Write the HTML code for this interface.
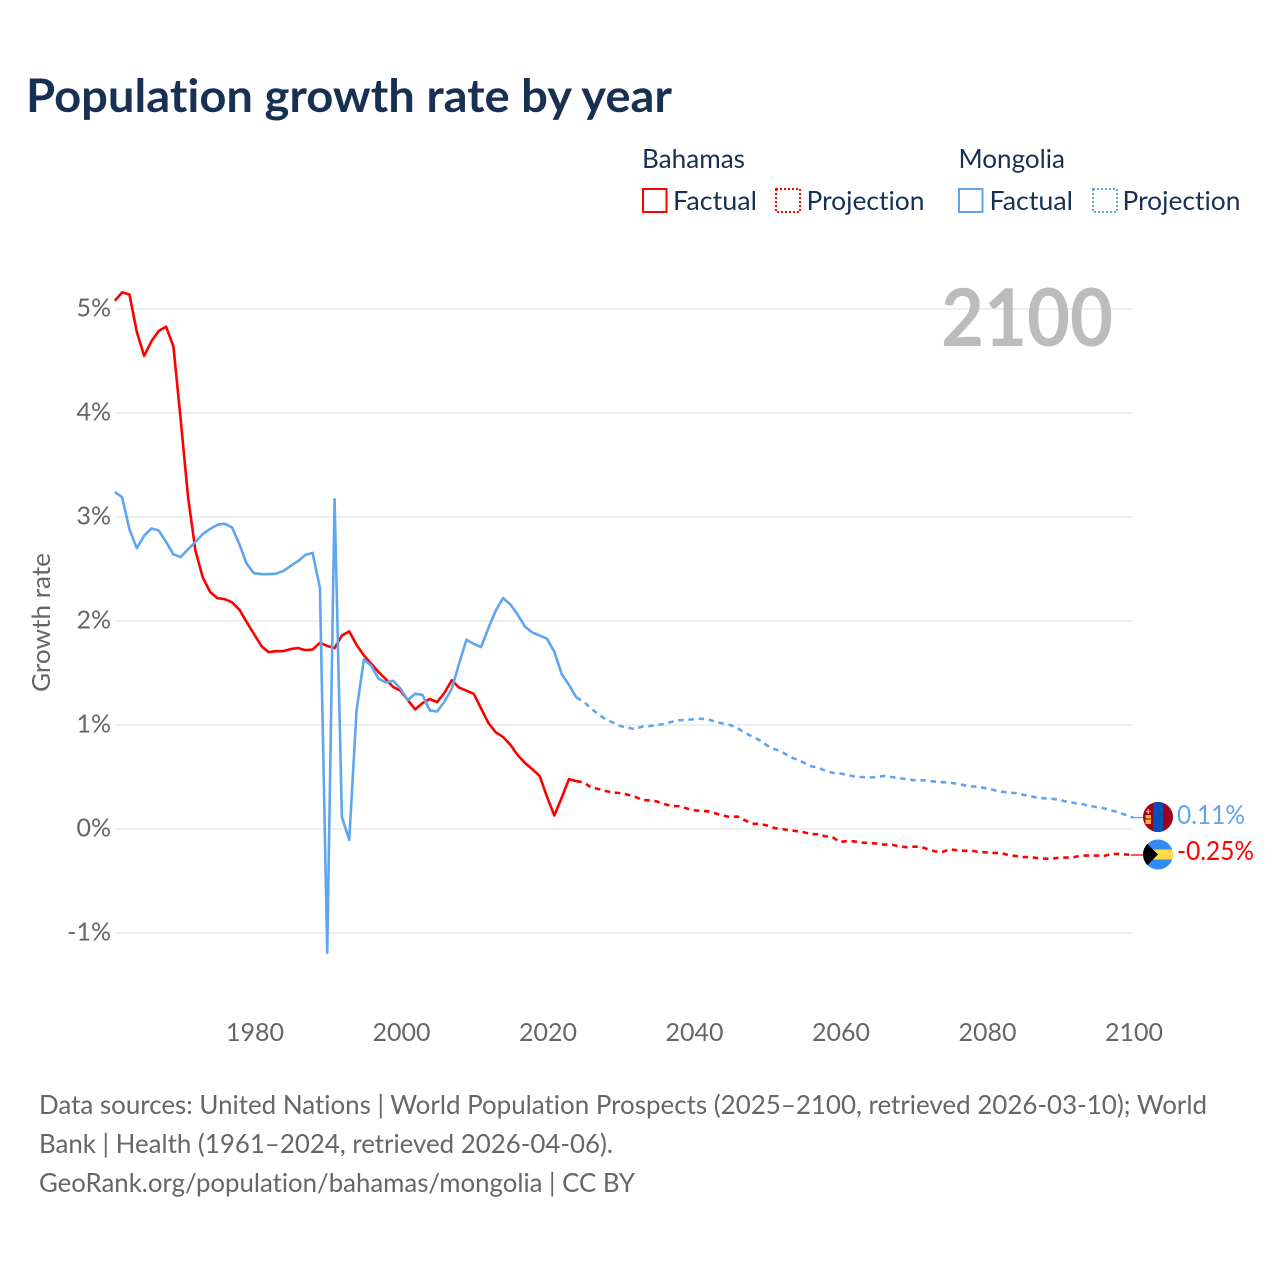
<!DOCTYPE html>
<html lang="en">
<head>
<meta charset="utf-8">
<title>Population growth rate by year</title>
<style>
html,body{margin:0;padding:0;background:#fff;}
svg{display:block;}
text{font-family:"Lato","Carlito","Liberation Sans",sans-serif;font-variant-ligatures:none;font-feature-settings:"liga" 0,"clig" 0,"dlig" 0;}
</style>
</head>
<body>
<svg id="chart" xmlns="http://www.w3.org/2000/svg" width="1280" height="1280" viewBox="0 0 1280 1280">
  <defs>
    <clipPath id="flag-clip-mn"><circle id="clip-mn" cx="1158" cy="817" r="15"/></clipPath>
    <clipPath id="flag-clip-bs"><circle id="clip-bs" cx="1158" cy="854.5" r="15"/></clipPath>
  </defs>
  <rect x="0" y="0" width="1280" height="1280" fill="#fff"/>
  <text x="26" y="112" font-size="46" font-weight="700" fill="#183153" textLength="646" lengthAdjust="spacingAndGlyphs">Population growth rate by year</text>

  <g font-size="26" fill="#183153">
    <text x="642" y="168" textLength="103" lengthAdjust="spacingAndGlyphs">Bahamas</text>
    <text x="958.5" y="168" textLength="106.5" lengthAdjust="spacingAndGlyphs">Mongolia</text>
    <rect x="643" y="189" width="23.5" height="23" fill="none" stroke="#ff0000" stroke-width="2"/>
    <text x="673" y="210" textLength="84" lengthAdjust="spacingAndGlyphs">Factual</text>
    <rect x="776" y="189" width="24" height="23" fill="none" stroke="#ff0000" stroke-width="2" stroke-dasharray="2 2"/>
    <text x="806.5" y="210" textLength="118" lengthAdjust="spacingAndGlyphs">Projection</text>
    <rect x="959" y="189" width="23.5" height="23" fill="none" stroke="#5fa6ee" stroke-width="2"/>
    <text x="989.5" y="210" textLength="83.5" lengthAdjust="spacingAndGlyphs">Factual</text>
    <rect x="1093" y="189" width="24" height="23" fill="none" stroke="#5fa6ee" stroke-width="2" stroke-dasharray="2 2"/>
    <text x="1122.5" y="210" textLength="118" lengthAdjust="spacingAndGlyphs">Projection</text>
  </g>

  <g id="grid"></g>
  <g id="y-ticks"></g>
  <g id="x-ticks"></g>
  <text transform="translate(50,622.5) rotate(-90)" text-anchor="middle" font-size="25" fill="#666666" textLength="139" lengthAdjust="spacingAndGlyphs">Growth rate</text>
  <text x="941" y="346" font-size="80" font-weight="700" fill="#bcbcbc" textLength="172" lengthAdjust="spacingAndGlyphs">2100</text>
  <g id="series"></g>

  <g id="flag-mn" clip-path="url(#flag-clip-mn)">
    <rect id="mn-bg" x="1143" y="802" width="30" height="30" fill="#a2001d"/>
    <rect id="mn-stripe" x="1153" y="802" width="10" height="30" fill="#0052b4"/>
    <rect id="mn-flame" x="1147.5" y="809" width="1.5" height="5" fill="#ffb13b"/>
    <rect id="mn-flame-bar" x="1146" y="811" width="4.5" height="1.2" fill="#ffb13b"/>
    <rect id="mn-emblem" x="1145.5" y="815" width="5.5" height="9" fill="#ffb13b"/>
    <rect id="mn-emblem-line" x="1145.5" y="818.5" width="5.5" height="1" fill="#a2001d"/>
  </g>
  <g id="flag-bs" clip-path="url(#flag-clip-bs)">
    <rect id="bs-bg" x="1143" y="839.5" width="30" height="30" fill="#338af3"/>
    <rect id="bs-band" x="1143" y="849.5" width="30" height="10" fill="#ffda44"/>
    <polygon id="bs-tri" points="1143,839.5 1158,854.5 1143,869.5" fill="#000"/>
  </g>

  <text id="label-mn" x="1177" y="824" font-size="26" fill="#5fa6ee" textLength="68" lengthAdjust="spacingAndGlyphs"></text>
  <text id="label-bs" x="1177" y="860" font-size="26" fill="#ff0000" textLength="77" lengthAdjust="spacingAndGlyphs"></text>

  <g font-size="26" fill="#666666">
    <text x="39" y="1114" textLength="1168" lengthAdjust="spacingAndGlyphs">Data sources: United Nations | World Population Prospects (2025–2100, retrieved 2026-03-10); World</text>
    <text x="39" y="1153" textLength="574" lengthAdjust="spacingAndGlyphs">Bank | Health (1961–2024, retrieved 2026-04-06).</text>
    <text x="39" y="1192" textLength="596" lengthAdjust="spacingAndGlyphs">GeoRank.org/population/bahamas/mongolia | CC BY</text>
  </g>
</svg>
<script>
const firstFactualYear = 1961;
const firstProjectionYear = 2024;
const yTickValues = [5, 4, 3, 2, 1, 0, -1];
const yTickLabels = ["5%", "4%", "3%", "2%", "1%", "0%", "-1%"];
const xTickYears = [1980, 2000, 2020, 2040, 2060, 2080, 2100];
const xTickLabels = ["1980", "2000", "2020", "2040", "2060", "2080", "2100"];

const bahamasFactual = [5.08,5.16,5.14,4.78,4.55,4.69,4.79,4.83,4.64,3.93,3.19,2.68,2.42,2.28,2.22,2.21,2.18,2.11,1.99,1.875,
1.76,1.70,1.71,1.71,1.73,1.74,1.72,1.725,1.79,1.76,1.74,1.86,1.90,1.77,1.67,1.59,1.51,1.44,1.365,1.33,
1.24,1.15,1.21,1.25,1.22,1.31,1.43,1.36,1.33,1.30,1.16,1.02,0.93,0.885,0.81,0.71,0.635,0.575,0.51,0.31,
0.13,0.30,0.48,0.46];
const bahamasProjection = [0.46,0.45,0.40,0.385,0.365,0.35,0.345,0.33,0.31,0.28,0.275,0.265,0.24,0.22,0.22,0.20,0.18,0.175,0.17,0.15,
0.13,0.115,0.12,0.085,0.05,0.05,0.035,0.01,0,-0.01,-0.02,-0.03,-0.05,-0.05,-0.07,-0.08,
-0.125,-0.115,-0.12,-0.13,-0.135,-0.14,-0.15,-0.15,-0.165,-0.175,-0.17,-0.17,-0.195,-0.215,-0.22,-0.195,-0.205,-0.21,-0.21,-0.22,
-0.225,-0.23,-0.23,-0.25,-0.26,-0.27,-0.27,-0.28,-0.285,-0.285,-0.275,-0.275,-0.27,-0.255,-0.255,-0.255,-0.26,-0.24,-0.24,-0.245,-0.25];
const mongoliaFactual = [3.24,3.19,2.88,2.70,2.82,2.89,2.87,2.76,2.64,2.615,2.69,2.76,2.835,2.885,2.925,2.935,2.90,2.74,2.55,2.46,
2.45,2.45,2.455,2.48,2.53,2.575,2.635,2.655,2.32,-1.19,3.17,0.115,-0.105,1.14,1.63,1.57,1.445,1.41,1.425,1.35,
1.24,1.30,1.29,1.14,1.13,1.225,1.35,1.59,1.82,1.78,1.75,1.93,2.10,2.22,2.16,2.06,1.945,1.89,1.86,1.83,
1.705,1.49,1.385,1.265];
const mongoliaProjection = [1.265,1.225,1.16,1.105,1.055,1.025,0.99,0.975,0.96,0.985,0.99,1.00,1.01,1.03,1.045,1.05,1.055,1.06,1.055,1.03,
1.015,1.00,0.97,0.925,0.89,0.855,0.805,0.77,0.745,0.70,0.67,0.64,0.605,0.59,0.56,0.54,
0.535,0.52,0.505,0.50,0.495,0.50,0.51,0.50,0.49,0.48,0.47,0.47,0.465,0.455,0.45,0.445,0.435,0.42,0.41,0.405,
0.39,0.375,0.36,0.35,0.345,0.33,0.315,0.30,0.295,0.29,0.28,0.26,0.25,0.24,0.225,0.21,0.20,0.18,0.16,0.135,0.11];
const bahamasEndLabel = "-0.25%";
const mongoliaEndLabel = "0.11%";

const SVGNS = "http://www.w3.org/2000/svg";
function xScale(year){ return 254 + (year - 1980) * 7.325; }
function yScale(value){ return 829 - value * 104; }
function linePath(values, startYear){
  return values.map(function(v, i){
    return (i ? "L" : "M") + xScale(startYear + i).toFixed(2) + " " + yScale(v).toFixed(2);
  }).join(" ");
}
function make(tag, attrs, parent, content){
  const el = document.createElementNS(SVGNS, tag);
  Object.keys(attrs).forEach(function(k){ el.setAttribute(k, attrs[k]); });
  if (content !== undefined) el.textContent = content;
  parent.appendChild(el);
  return el;
}

const gridGroup = document.getElementById("grid");
const yTickGroup = document.getElementById("y-ticks");
const xTickGroup = document.getElementById("x-ticks");
const seriesGroup = document.getElementById("series");

yTickValues.forEach(function(v, i){
  const gridLine = make("line", {x1: 115, x2: 1133, y1: yScale(v), y2: yScale(v), stroke: "#eeeeee", "stroke-width": 2}, gridGroup);
  
  
  const yLabel = make("text", {x: 111, y: yScale(v) + 7.5, "text-anchor": "end", "font-size": 25, fill: "#666666"}, yTickGroup, yTickLabels[i]);
  
  
});
xTickYears.forEach(function(y, i){
  const xLabel = make("text", {x: xScale(y) + 1, y: 1041, "text-anchor": "middle", "font-size": 25, fill: "#666666"}, xTickGroup, xTickLabels[i]);
  
  
});

const seriesStyle = {fill: "none", "stroke-width": 2.6, "stroke-linejoin": "round"};
function addSeries(values, startYear, color, dashed){
  const attrs = Object.assign({d: linePath(values, startYear), stroke: color}, seriesStyle);
  if (dashed) attrs["stroke-dasharray"] = "5.5 4.7";
  return make("path", attrs, seriesGroup);
}
const lineBsF = addSeries(bahamasFactual, firstFactualYear, "#ff0000", false);


const lineBsP = addSeries(bahamasProjection, firstProjectionYear, "#ff0000", true);


const lineMnF = addSeries(mongoliaFactual, firstFactualYear, "#5fa6ee", false);


const lineMnP = addSeries(mongoliaProjection, firstProjectionYear, "#5fa6ee", true);



function lastOf(a){ return a[a.length - 1]; }
const mnEndY = yScale(lastOf(mongoliaProjection));
const bsEndY = yScale(lastOf(bahamasProjection));
const connMn = make("line", {x1: 1131, x2: 1145, y1: mnEndY, y2: mnEndY, stroke: "#5fa6ee", "stroke-width": 1.3}, seriesGroup);


const connBs = make("line", {x1: 1131, x2: 1145, y1: bsEndY, y2: bsEndY, stroke: "#ff0000", "stroke-width": 1.3}, seriesGroup);



document.getElementById("label-mn").textContent = mongoliaEndLabel;
document.getElementById("label-bs").textContent = bahamasEndLabel;
</script>
</body>
</html>
